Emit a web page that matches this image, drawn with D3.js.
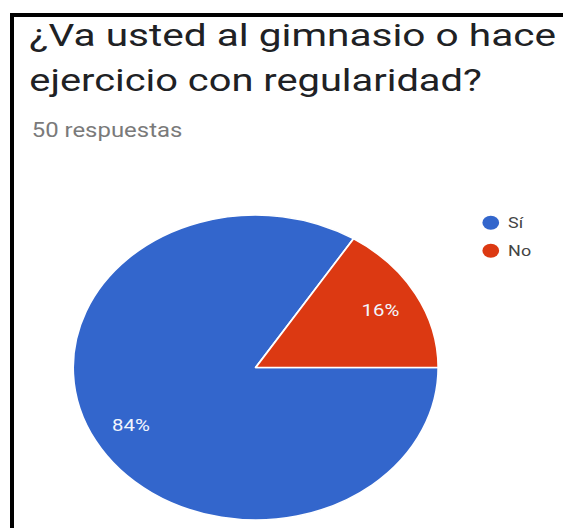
<!DOCTYPE html>
<html>
<head>
<meta charset="utf-8">
<script src="https://cdn.jsdelivr.net/npm/d3@7"></script>
<style>
  html, body { margin: 0; padding: 0; background: #fff; }
  svg { display: block; }
</style>
</head>
<body>
<svg id="chart" width="563" height="528"></svg>
<script>
// Survey answers
const categories = ["Sí", "No"];
const values = [84, 16];
const colors = ["#3366cc", "#dc3912"];
const titleLines = ["¿Va usted al gimnasio o hace", "ejercicio con regularidad?"];
const subtitle = "50 respuestas";

const W = 563, H = 528;
const sx = 1.197; // horizontal stretch of the whole card
const svg = d3.select("#chart");

svg.append("rect").attr("width", W).attr("height", H).attr("fill", "#fff");

// card frame (top and left edges)
svg.append("rect").attr("x", 10).attr("y", 13).attr("width", W - 10).attr("height", 4).attr("fill", "#000");
svg.append("rect").attr("x", 10).attr("y", 13).attr("width", 4).attr("height", H - 13).attr("fill", "#000");

const g = svg.append("g").attr("transform", `scale(${sx},1)`);
const font = "Roboto, 'Noto Sans', Arial, sans-serif";

// title
const titleWidths = [440, 378];
titleLines.forEach((t, i) => {
  g.append("text")
    .attr("x", 24.5)
    .attr("y", 46 + i * 45)
    .attr("font-family", font)
    .attr("font-size", 32)
    .attr("fill", "#202124")
    .attr("textLength", titleWidths[i])
    .attr("lengthAdjust", "spacingAndGlyphs")
    .text(t);
});

g.append("text")
  .attr("x", 26.5)
  .attr("y", 137)
  .attr("font-family", font)
  .attr("font-size", 20)
  .attr("fill", "#7a7a7a")
  .text(subtitle);

// pie
const cx = 213.6, cy = 367.5, r = 152.5;
const pie = d3.pie().sort(null).value(d => d)
  .startAngle(Math.PI / 2).endAngle(Math.PI / 2 + 2 * Math.PI);
const arcs = pie(values);
const arc = d3.arc().innerRadius(0).outerRadius(r);
const labelArc = d3.arc().innerRadius(r * 0.78).outerRadius(r * 0.78);
const total = d3.sum(values);

const pg = g.append("g").attr("transform", `translate(${cx},${cy})`);
pg.selectAll("path.slice").data(arcs).join("path")
  .attr("class", "slice")
  .attr("d", arc)
  .attr("fill", (d, i) => colors[i])
  .attr("stroke", "#fff")
  .attr("stroke-width", 1.5)
  .attr("stroke-linejoin", "round");

pg.selectAll("text.pct").data(arcs).join("text")
  .attr("class", "pct")
  .attr("transform", d => `translate(${labelArc.centroid(d)})`)
  .attr("text-anchor", "middle")
  .attr("dy", "0.36em")
  .attr("font-family", font)
  .attr("font-size", 17)
  .attr("fill", "#f2f5fc")
  .text(d => Math.round(d.value / total * 100) + "%");

// legend
const lg = g.append("g");
categories.forEach((c, i) => {
  const y = 222.7 + i * 28;
  lg.append("circle").attr("cx", 410).attr("cy", y).attr("r", 7).attr("fill", colors[i]);
  lg.append("text")
    .attr("x", 424.5).attr("y", y + 5.5)
    .attr("font-family", font)
    .attr("font-size", 15)
    .attr("fill", "#444")
    .text(c);
});
</script>
</body>
</html>
